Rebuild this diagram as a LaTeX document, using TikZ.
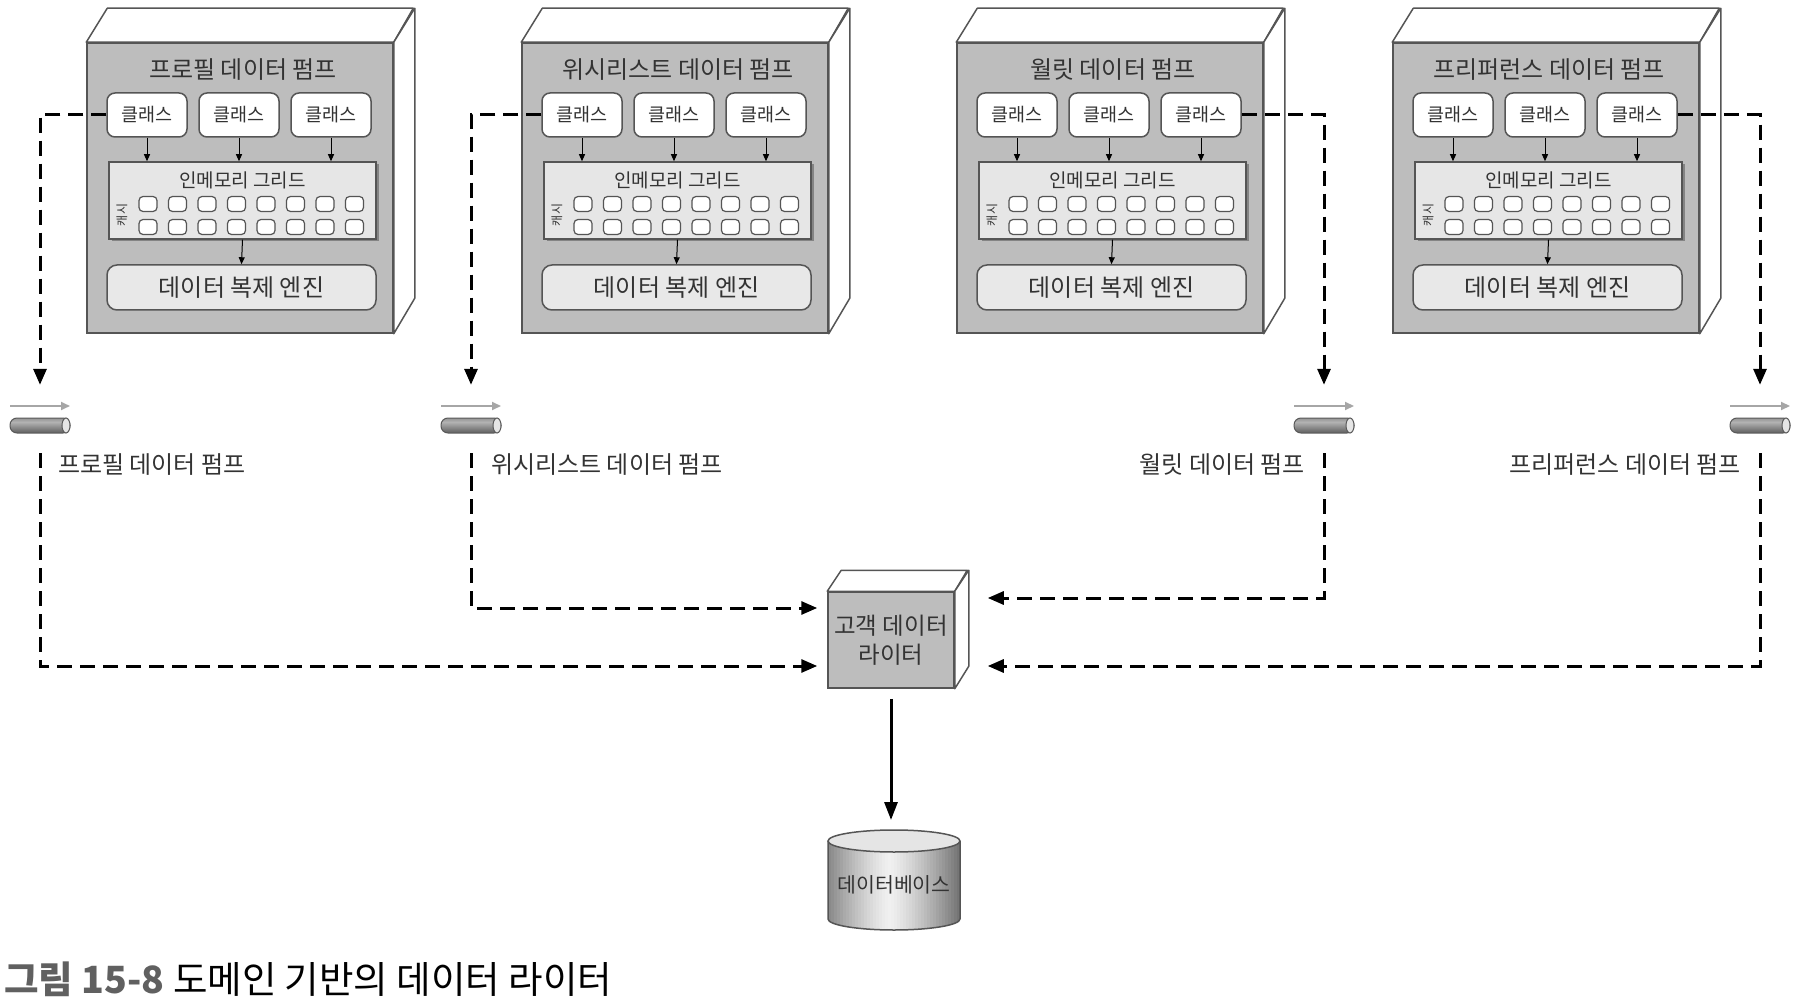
\documentclass[tikz,border=0pt]{standalone}
\usepackage{fontspec}
\setmainfont{Noto Sans CJK KR}
\usetikzlibrary{arrows.meta,calc,shadows}
\definecolor{boxgray}{HTML}{BDBDBD}
\definecolor{linegray}{HTML}{555555}
\definecolor{gridfill}{HTML}{E6E6E6}
\definecolor{engfill}{HTML}{E8E8E8}
\definecolor{txt}{HTML}{333333}
\newcommand\pumpunit[3]{%
\begin{scope}[shift={(#2,43)}]
 \node[frontbox] (#1box) at (153,145) {};
 \draw[face] (#1box.north west) -- ++(21,-34) -- ++(306,0) -- (#1box.north east) -- cycle;
 \draw[face] (#1box.north east) -- ++(21,-34) -- ++(0,290) -- (#1box.south east) -- cycle;
 \node[titletext] (#1title) at (156,27) {#3};
 \node[classbox] (#1c1) at (60,72) {클래스};
 \node[classbox] (#1c2) at (152,72) {클래스};
 \node[classbox] (#1c3) at (244,72) {클래스};
 \node[gridbox] (#1grid) at (155.5,157.5) {};
 \node[gridtext] (#1gt) at (155.5,137) {인메모리 그리드};
 \node[cachetext] (#1cache) at (35,172) {캐시};
 \foreach \i in {0,...,7}{%
   \node[cell] (#1cellA\i) at ({61+\i*29.5},161) {};
   \node[cell] (#1cellB\i) at ({61+\i*29.5},184) {};
 }
 \node[enginebox] (#1eng) at (154.5,244.5) {데이터 복제 엔진};
 \draw[thinarrow] (#1c1.south) -- (#1c1.south |- #1grid.north);
 \draw[thinarrow] (#1c2.south) -- (#1c2.south |- #1grid.north);
 \draw[thinarrow] (#1c3.south) -- (#1c3.south |- #1grid.north);
 \draw[thinarrow] (#1grid.south) -- (#1eng.north);
\end{scope}}
\newcommand\pipeunit[2]{%
 \node[pipebox] (#1) at (#2,420) {};
 \draw[gray!70, line width=2pt, -{Triangle[length=9pt,width=8pt]}] (#2-30,406) -- (#2+30,406);
 \begin{scope}
  \clip[rounded corners=7pt] (#2-30,418) rectangle (#2+30,433);
  \foreach \j in {0,...,14}{%
    \pgfmathsetmacro\g{30+30*abs(\j-4)/10}
    \fill[black!\g] (#2-31,418+\j) rectangle (#2+31,419.2+\j);
  }
 \end{scope}
 \draw[draw=black!65, line width=1pt, rounded corners=7pt] (#2-30,418) rectangle (#2+30,433);
 \draw[fill=gray!20, draw=black!65, line width=1pt] (#2+26,425.5) ellipse [x radius=4, y radius=7.5];
}
\begin{document}
\begin{tikzpicture}[x=1pt,y=-1pt,
  frontbox/.style={draw=linegray, fill=boxgray, line width=1.5pt, minimum width=306pt, minimum height=290pt, inner sep=0pt},
  face/.style={draw=linegray, fill=white, line width=1.5pt, line join=round},
  titletext/.style={font=\fontsize{24}{27}\selectfont, text=txt, inner sep=0pt},
  classbox/.style={draw=linegray, fill=white, rounded corners=8pt, line width=1.5pt, minimum width=80pt, minimum height=44pt, inner sep=0pt, font=\fontsize{18.5}{21}\selectfont, text=txt},
  gridbox/.style={draw=linegray, fill=gridfill, line width=1.5pt, minimum width=267pt, minimum height=77pt, inner sep=0pt, drop shadow={shadow xshift=2.5pt, shadow yshift=-2.5pt, fill=black!70, opacity=0.5}},
  gridtext/.style={font=\fontsize{19}{21}\selectfont, text=txt, inner sep=0pt},
  cachetext/.style={font=\fontsize{12}{14}\selectfont, text=txt, inner sep=0pt, rotate=90},
  cell/.style={draw=linegray, fill=white, rounded corners=4pt, line width=1.2pt, minimum width=18pt, minimum height=15pt, inner sep=0pt},
  enginebox/.style={draw=linegray, fill=engfill, rounded corners=10pt, line width=1.5pt, minimum width=269pt, minimum height=45pt, inner sep=0pt, font=\fontsize{24}{27}\selectfont, text=txt},
  thinarrow/.style={line width=1pt, -{Triangle[length=7pt,width=6pt]}},
  dashline/.style={line width=3pt, dash pattern=on 15pt off 8pt, -{Triangle[length=16pt,width=13pt]}},
  pipebox/.style={minimum width=62pt, minimum height=40pt, inner sep=0pt},
  label/.style={font=\fontsize{24}{27}\selectfont, text=txt, inner sep=0pt},
  writerbox/.style={draw=linegray, fill=boxgray, line width=1.5pt, minimum width=126pt, minimum height=96pt, inner sep=0pt, align=center, font=\fontsize{23.5}{29}\selectfont, text=txt},
]
\useasboundingbox[fill=white] (0,0) rectangle (1800,1000);

\pumpunit{a}{87}{프로필 데이터 펌프}
\pumpunit{b}{522}{위시리스트 데이터 펌프}
\pumpunit{c}{957}{월릿 데이터 펌프}
\pumpunit{d}{1393}{프리퍼런스 데이터 펌프}

\pipeunit{p1}{40}
\pipeunit{p2}{471}
\pipeunit{p3}{1324}
\pipeunit{p4}{1760}

\node[label, anchor=west] (l1) at (58,465) {프로필 데이터 펌프};
\node[label, anchor=west] (l2) at (491,465) {위시리스트 데이터 펌프};
\node[label, anchor=east] (l3) at (1305,465) {월릿 데이터 펌프};
\node[label, anchor=east] (l4) at (1741,465) {프리퍼런스 데이터 펌프};

% writer
\node[writerbox] (writer) at (891,640) {고객 데이터\\라이터};
\draw[face] (writer.north west) -- ++(14,-21) -- ++(126,0) -- (writer.north east) -- cycle;
\draw[face] (writer.north east) -- ++(14,-21) -- ++(0,96) -- (writer.south east) -- cycle;

% database
\begin{scope}
 \clip (828,841) -- (828,919) arc[start angle=180, end angle=0, x radius=66, y radius=11] -- (960,841) -- cycle;
 \foreach \k in {0,...,43}{%
   \pgfmathsetmacro\g{6+48*(abs(\k-20)/23)^1.3}
   \fill[black!\g] (828+3*\k,830) rectangle (831.4+3*\k,932);
 }
\end{scope}
\draw[draw=linegray, line width=1.5pt] (828,841) -- (828,919) arc[start angle=180, end angle=0, x radius=66, y radius=11] -- (960,841);
\draw[fill=black!10, draw=linegray, line width=1.5pt] (894,841) ellipse [x radius=66, y radius=11];
\node[font=\fontsize{20.5}{24}\selectfont, text=txt, inner sep=0pt, minimum width=132pt, minimum height=100pt] (db) at (894,885) {데이터베이스};

% connectors from pumps to pipes
\draw[dashline, shorten >=15pt] (ac1.west) -| (p1.north);
\draw[dashline, shorten >=15pt] (bc1.west) -| (p2.north);
\draw[dashline, shorten >=15pt] (cc3.east) -| (p3.north);
\draw[dashline, shorten >=15pt] (dc3.east) -| (p4.north);

% connectors from pipes to writer
\draw[dashline, shorten <=13pt] (p1.south) |- ([xshift=-10pt,yshift=-26pt]writer.west);
\draw[dashline, shorten <=13pt] (p2.south) |- ([xshift=-10pt,yshift=32pt]writer.west);
\draw[dashline, shorten <=13pt] (p3.south) |- ([xshift=33pt,yshift=42pt]writer.east);
\draw[dashline, shorten <=13pt] (p4.south) |- ([xshift=33pt,yshift=-26pt]writer.east);

% writer to database
\draw[line width=3pt, -{Triangle[length=18pt,width=13pt]}, shorten <=10pt, shorten >=10pt] (writer.south) -- (writer.south |- 0,830);

% caption
\node[anchor=west, inner sep=0pt, font=\fontsize{37.5}{42}\selectfont] (caption) at (4,979) {{\bfseries\color{gray!75!black}그림 15-8} 도메인 기반의 데이터 라이터};
\end{tikzpicture}
\end{document}
